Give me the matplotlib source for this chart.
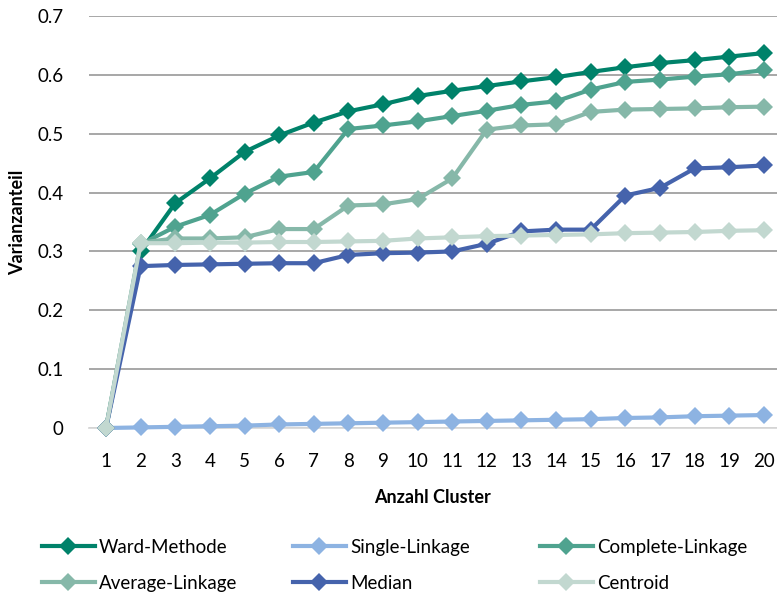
import matplotlib
matplotlib.use("Agg")
import matplotlib.pyplot as plt

plt.rcParams['font.family'] = ['Lato', 'DejaVu Sans']

clusters = list(range(1, 21))
ward = [0, 0.300, 0.382, 0.424, 0.469, 0.497, 0.519, 0.538, 0.550, 0.564, 0.573, 0.581,
        0.589, 0.596, 0.605, 0.613, 0.620, 0.625, 0.631, 0.637]
single = [0, 0.001, 0.002, 0.003, 0.004, 0.006, 0.007, 0.008, 0.009, 0.010, 0.011, 0.012,
          0.013, 0.014, 0.015, 0.017, 0.018, 0.020, 0.021, 0.022]
complete = [0, 0.312, 0.342, 0.362, 0.398, 0.427, 0.435, 0.508, 0.514, 0.521, 0.530, 0.539,
            0.549, 0.555, 0.575, 0.588, 0.592, 0.597, 0.601, 0.608]
average = [0, 0.315, 0.322, 0.322, 0.324, 0.338, 0.338, 0.378, 0.380, 0.389, 0.424, 0.507,
           0.514, 0.516, 0.537, 0.541, 0.542, 0.543, 0.545, 0.546]
median = [0, 0.275, 0.277, 0.278, 0.279, 0.280, 0.280, 0.294, 0.297, 0.298, 0.300, 0.313,
          0.334, 0.337, 0.337, 0.395, 0.408, 0.441, 0.443, 0.446]
centroid = [0, 0.314, 0.314, 0.315, 0.315, 0.316, 0.316, 0.317, 0.318, 0.322, 0.324, 0.326,
            0.327, 0.328, 0.329, 0.331, 0.332, 0.333, 0.335, 0.336]

names = ['Ward-Methode', 'Single-Linkage', 'Complete-Linkage', 'Average-Linkage', 'Median', 'Centroid']
series = [ward, single, complete, average, median, centroid]
colors = ['#00826A', '#8DB3E2', '#4FA38F', '#86B8A9', '#4563AC', '#C2D8D0']

fig = plt.figure(figsize=(7.77, 5.93), dpi=100)
ax = fig.add_axes([88.7/777, 165/593, (777-88.7)/777, 412/593])

handles = []
for name, vals, c in zip(names, series, colors):
    h, = ax.plot(clusters, vals, color=c, lw=3, marker='D', markersize=9,
                 markeredgewidth=0, label=name, clip_on=False, zorder=3)
    handles.append(h)

ax.set_xlim(0.5, 20.38)
ax.set_ylim(0, 0.7)
ax.set_yticks([0, 0.1, 0.2, 0.3, 0.4, 0.5, 0.6, 0.7])
ax.set_yticklabels(['0', '0.1', '0.2', '0.3', '0.4', '0.5', '0.6', '0.7'])
ax.set_xticks(clusters)
ax.set_xticklabels([str(c) for c in clusters])
ax.tick_params(axis='both', length=0, labelsize=13.5, colors='#000000')
ax.tick_params(axis='x', pad=18)
ax.tick_params(axis='y', pad=18)
ax.grid(axis='y', color='#A0A0A0', lw=1.3, zorder=0)
ax.set_axisbelow(True)
for s in ['top', 'right', 'left']:
    ax.spines[s].set_visible(False)
ax.spines['bottom'].set_color('#D9D9D9')
ax.spines['bottom'].set_linewidth(1.3)

ax.set_ylabel('Varianzanteil', fontsize=13, fontweight='bold', labelpad=8)
ax.set_xlabel('Anzahl Cluster', fontsize=13, fontweight='bold', labelpad=14)

# legend: three columns, row-wise order
col_x = [42/777, 293/777, 540/777]
cols = [[0, 3], [1, 4], [2, 5]]
for x0, idx in zip(col_x, cols):
    leg = fig.legend([handles[i] for i in idx], [names[i] for i in idx],
                     loc='upper left', bbox_to_anchor=(x0, 0.091), frameon=False,
                     fontsize=13.5, handlelength=2.8, numpoints=1,
                     handletextpad=0.25, labelspacing=1.0, borderpad=0,
                     borderaxespad=0)

fig.savefig('out.png', dpi=100)
